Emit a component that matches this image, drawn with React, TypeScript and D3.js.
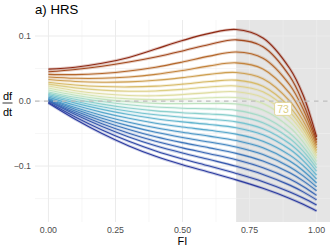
import React from "react";
import * as d3 from "d3";

// ---- data ----
const FI = [0, 0.1, 0.2, 0.3, 0.4, 0.5, 0.6, 0.7, 0.8, 0.9, 0.95, 1.0];

const ages = [79, 78, 77, 76, 75, 74, 73, 72, 71, 70, 69, 68, 67, 66, 65, 64, 63, 62, 61, 60, 59, 58];

const c79 = [0.049, 0.052, 0.058, 0.067, 0.080, 0.093, 0.104, 0.110, 0.097, 0.050, 0.009, -0.055];
const c78 = [0.045, 0.0485, 0.0535, 0.0599, 0.0677, 0.077, 0.087, 0.0941, 0.0836, 0.0381, -0.0033, -0.060];
const c77 = [0.041, 0.0406, 0.0424, 0.0462, 0.052, 0.060, 0.069, 0.0754, 0.0659, 0.0247, -0.0127, -0.064];
const c76 = [0.037, 0.035, 0.035, 0.037, 0.041, 0.047, 0.054, 0.0587, 0.0493, 0.0117, -0.022, -0.068];
const c75 = [0.033, 0.0301, 0.0289, 0.0295, 0.0319, 0.036, 0.041, 0.0439, 0.0344, -0.0001, -0.0306, -0.072];
const c74 = [0.029, 0.0247, 0.0223, 0.0217, 0.0229, 0.026, 0.030, 0.0321, 0.0228, -0.0095, -0.0377, -0.076];
const c73 = [0.026, 0.0203, 0.0167, 0.0151, 0.0155, 0.018, 0.0215, 0.0232, 0.0141, -0.0167, -0.0436, -0.080];
const c72 = [0.023, 0.0159, 0.0111, 0.0085, 0.0081, 0.010, 0.013, 0.0143, 0.0054, -0.024, -0.0495, -0.084];
const c71 = [0.020, 0.0123, 0.0067, 0.0033, 0.0021, 0.003, 0.005, 0.0054, -0.0036, -0.0316, -0.0557, -0.088];
const c70 = [0.017, 0.009, 0.003, -0.0012, -0.0036, -0.004, -0.0038, -0.0044, -0.0139, -0.0406, -0.063, -0.093];
const c69 = [0.014, 0.0058, -0.0008, -0.0058, -0.0092, -0.011, -0.012, -0.0143, -0.0243, -0.0496, -0.0704, -0.098];
const c68 = [0.012, 0.0028, -0.0048, -0.0108, -0.0152, -0.018, -0.020, -0.0232, -0.0334, -0.0576, -0.0772, -0.103];
const c67 = [0.010, -0.0002, -0.0088, -0.0158, -0.0212, -0.025, -0.028, -0.0321, -0.0425, -0.0657, -0.0841, -0.108];
const c66 = [0.008, -0.0032, -0.0128, -0.0208, -0.0272, -0.032, -0.036, -0.041, -0.0518, -0.0742, -0.0915, -0.114];
const c65 = [0.006, -0.0066, -0.0174, -0.0266, -0.0342, -0.040, -0.045, -0.0509, -0.0619, -0.0832, -0.0993, -0.120];
const c64 = [0.004, -0.0099, -0.0221, -0.0325, -0.0411, -0.048, -0.054, -0.0608, -0.072, -0.0923, -0.1072, -0.126];
const c63 = [0.003, -0.0126, -0.0264, -0.0382, -0.048, -0.056, -0.063, -0.0706, -0.0821, -0.1013, -0.115, -0.132];
const c62 = [0.002, -0.0154, -0.0306, -0.0438, -0.055, -0.064, -0.072, -0.0805, -0.0923, -0.1103, -0.1228, -0.138];
const c61 = [0.001, -0.0181, -0.0349, -0.0495, -0.0619, -0.072, -0.081, -0.0904, -0.1025, -0.1198, -0.1313, -0.145];
const c60 = [0.000, -0.0208, -0.0392, -0.0552, -0.0688, -0.080, -0.090, -0.1003, -0.1128, -0.1293, -0.1397, -0.152];
const c59 = [-0.002, -0.0245, -0.0445, -0.0619, -0.0767, -0.089, -0.100, -0.1113, -0.124, -0.1398, -0.1492, -0.160];
const c58 = [-0.003, -0.028, -0.050, -0.069, -0.085, -0.098, -0.1095, -0.1212, -0.1342, -0.1497, -0.1588, -0.169];

const curves = [c79, c78, c77, c76, c75, c74, c73, c72, c71, c70, c69, c68, c67, c66, c65, c64, c63, c62, c61, c60, c59, c58];

const palette = [
  "#8E2812", "#A2481D", "#B4672B", "#C3843D", "#CEA052", "#D7BA68", "#DDCF86", "#DFDDA2",
  "#D4E5B4", "#BFE2C0", "#A5DAC8", "#8DD0CD", "#77C4D0", "#65B6CF", "#57A7CB", "#4C97C6",
  "#4587C1", "#3F77BA", "#3A67B4", "#3557AD", "#3048A6", "#2B3A9F",
];

const xTicks = [0, 0.25, 0.5, 0.75, 1];
const xMinor = [0.125, 0.375, 0.625, 0.875];
const yTicks = [-0.1, 0, 0.1];
const yMinor = [-0.15, -0.05, 0.05];
const shadeStart = 0.7;
const labelAge = 73;
const labelFI = 0.875;

const W = 333;
const H = 250;
const P = { left: 35, right: 330, top: 20, bottom: 222 };
const FONT = "'Liberation Sans', Arial, Helvetica, sans-serif";

export default function App() {
  const x = d3.scaleLinear().domain([-0.05, 1.05]).range([P.left, P.right]);
  const y = d3.scaleLinear().domain([-0.186, 0.1246]).range([P.bottom, P.top]);
  const line = d3
    .line<number>()
    .x((_, i) => x(FI[i]))
    .y((d) => y(d))
    .curve(d3.curveCatmullRom.alpha(0.5));

  const li = ages.indexOf(labelAge);
  const labelVal = d3.scaleLinear().domain(FI).range(curves[li])(labelFI);
  const lx = x(labelFI);
  const ly = y(labelVal) + 2;
  const fmtX = d3.format(".2f");
  const fmtY = (v: number) => (v < 0 ? "\u2212" : "") + d3.format(".1f")(Math.abs(v));

  const order = curves.map((_, i) => i).reverse();

  return (
    <svg
      width={W}
      height={H}
      style={{ position: "absolute", left: 0, top: 0, background: "#fff" }}
      fontFamily={FONT}
    >
      <rect x={0} y={0} width={W} height={H} fill="#fff" />
      {/* shaded region */}
      <rect
        x={x(shadeStart)}
        y={P.top}
        width={P.right - x(shadeStart)}
        height={P.bottom - P.top}
        fill="#E5E5E5"
      />
      {/* grid */}
      {xMinor.map((v) => (
        <line key={"xm" + v} x1={x(v)} x2={x(v)} y1={P.top} y2={P.bottom} stroke="#F0F0F0" strokeWidth={0.6} />
      ))}
      {yMinor.map((v) => (
        <line key={"ym" + v} x1={P.left} x2={P.right} y1={y(v)} y2={y(v)} stroke="#F0F0F0" strokeWidth={0.6} />
      ))}
      {xTicks.map((v) => (
        <line key={"xg" + v} x1={x(v)} x2={x(v)} y1={P.top} y2={P.bottom} stroke="#EBEBEB" strokeWidth={1} />
      ))}
      {yTicks.map((v) => (
        <line key={"yg" + v} x1={P.left} x2={P.right} y1={y(v)} y2={y(v)} stroke="#EBEBEB" strokeWidth={1} />
      ))}
      {/* curves */}
      {order.map((i) => (
        <g key={"c" + i}>
          <path d={line(curves[i]) || ""} fill="none" stroke={palette[i]} strokeOpacity={0.25} strokeWidth={3} />
          <path d={line(curves[i]) || ""} fill="none" stroke={palette[i]} strokeWidth={1.1} />
        </g>
      ))}
      {/* zero line */}
      <line
        x1={P.left}
        x2={P.right}
        y1={y(0)}
        y2={y(0)}
        stroke="#BDBDBD"
        strokeWidth={1.2}
        strokeDasharray="4.5,4.5"
      />
      {/* label */}
      <rect x={lx - 8.5} y={ly - 6.5} width={17} height={13} rx={2} fill="#fff" stroke={palette[li]} strokeWidth={0.8} />
      <text x={lx} y={ly + 3.8} textAnchor="middle" fontSize={10.5} fill={palette[li]}>
        {String(labelAge)}
      </text>
      {/* axes labels */}
      {xTicks.map((v) => (
        <text key={"xt" + v} x={x(v)} y={232.5} textAnchor="middle" fontSize={8.8} fill="#4D4D4D">
          {fmtX(v)}
        </text>
      ))}
      {yTicks.map((v) => (
        <text key={"yt" + v} x={31} y={y(v) + 3.1} textAnchor="end" fontSize={8.8} fill="#4D4D4D">
          {fmtY(v)}
        </text>
      ))}
      <text x={(P.left + P.right) / 2} y={245} textAnchor="middle" fontSize={11} fill="#000">
        FI
      </text>
      <text x={7.5} y={100} textAnchor="middle" fontSize={11} fill="#000">
        df
      </text>
      <line x1={2.5} x2={12.5} y1={103} y2={103} stroke="#000" strokeWidth={0.8} />
      <text x={7.5} y={115.5} textAnchor="middle" fontSize={11} fill="#000">
        dt
      </text>
      <text x={35} y={13.5} fontSize={13.2} fill="#000">
        a) HRS
      </text>
    </svg>
  );
}
